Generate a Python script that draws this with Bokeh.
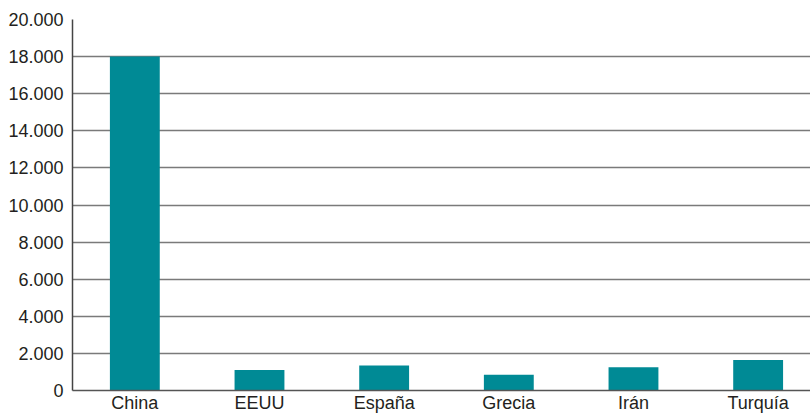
from bokeh.plotting import figure
from bokeh.models import Range1d, FixedTicker
from bokeh.embed import file_html
from bokeh.resources import INLINE

# Data
countries = ["China", "EEUU", "España", "Grecia", "Irán", "Turquía"]
values = [18000, 1100, 1350, 850, 1250, 1650]
y_ticks = [0, 2000, 4000, 6000, 8000, 10000, 12000, 14000, 16000, 18000, 20000]
y_tick_labels = ["0", "2.000", "4.000", "6.000", "8.000", "10.000",
                 "12.000", "14.000", "16.000", "18.000", "20.000"]

xs = [i + 0.5 for i in range(len(countries))]

p = figure(width=810, height=415, output_backend="svg", toolbar_location=None,
           x_range=Range1d(0, 5.92), y_range=Range1d(0, 20000),
           min_border_left=72, min_border_top=19, min_border_right=0, min_border_bottom=0)
p.outline_line_color = None
p.background_fill_color = "white"

p.vbar(x=xs, top=values, width=0.4, color="#008a95", line_color=None)

FONT = "Liberation Sans"
TXT = "#231f20"

# y axis
p.yaxis.ticker = FixedTicker(ticks=y_ticks)
p.yaxis.major_label_overrides = {t: l for t, l in zip(y_ticks, y_tick_labels)}
p.yaxis.major_tick_line_color = None
p.yaxis.major_tick_out = 0
p.yaxis.major_tick_in = 0
p.yaxis.minor_tick_line_color = None
p.yaxis.axis_line_color = "#444444"
p.yaxis.axis_line_width = 1.5
p.yaxis.major_label_standoff = 9
p.yaxis.major_label_text_font = FONT
p.yaxis.major_label_text_font_size = "18px"
p.yaxis.major_label_text_color = TXT

# x axis
p.xaxis.ticker = FixedTicker(ticks=xs)
p.xaxis.major_label_overrides = {x: c for x, c in zip(xs, countries)}
p.xaxis.major_tick_line_color = None
p.xaxis.major_tick_out = 0
p.xaxis.major_tick_in = 0
p.xaxis.minor_tick_line_color = None
p.xaxis.minor_tick_out = 0
p.xaxis.axis_label_standoff = 0
p.xaxis.axis_line_color = "#555555"
p.xaxis.axis_line_width = 1.5
p.xaxis.major_label_standoff = 2
p.xaxis.major_label_text_font = FONT
p.xaxis.major_label_text_font_size = "18px"
p.xaxis.major_label_text_color = TXT

# grid
p.xgrid.grid_line_color = None
p.ygrid.ticker = FixedTicker(ticks=y_ticks[1:])
p.ygrid.grid_line_color = "#7a7a7a"
p.ygrid.grid_line_width = 1.5

open("out.html", "w").write(file_html(p, INLINE))
